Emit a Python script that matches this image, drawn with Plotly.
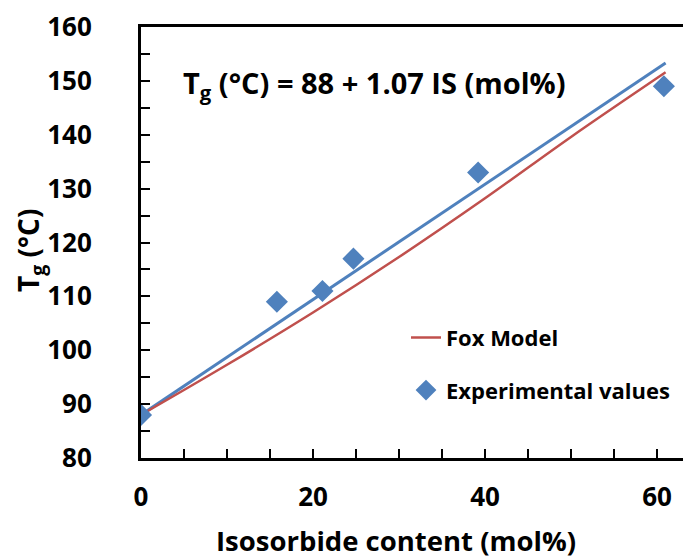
import plotly.graph_objects as go

# Data
exp_x = [0, 15.8, 21.1, 24.7, 39.2, 60.8]
exp_y = [88, 109, 111, 117, 133, 149]
fox_x = [0, 10, 20, 30, 40, 50, 61]
fox_y = [88, 97.3, 107.0, 117.3, 128.2, 139.6, 151.6]
fit_x = [0, 61]
fit_y = [88, 153.3]

BLUE = "#4F81BD"
RED = "#C0504D"
FONT = "Open Sans"

# page body has an 8px default margin; compensate so the plot lands where the reference has it
OFF = 8
W, H = 691 - OFF, 560 - OFF
L, T, B = 141 - OFF, 25 - OFF, 102
PW = W - L
PH = H - T - B


def px(xp):
    return (xp - 141) / PW


def py(yp):
    return (458 - yp) / PH


fig = go.Figure()
fig.add_trace(go.Scatter(x=fit_x, y=fit_y, mode="lines", line=dict(color=BLUE, width=3),
                         showlegend=False, hoverinfo="skip"))
fig.add_trace(go.Scatter(x=fox_x, y=fox_y, mode="lines", name="Fox Model",
                         line=dict(color=RED, width=2.5, shape="spline"), legendgroup="a"))
fig.add_trace(go.Scatter(x=exp_x, y=exp_y, mode="markers", name="Experimental values",
                         marker=dict(symbol="diamond", size=17, color=BLUE), legendgroup="b"))

xmax = PW / 172 * 20

fig.update_layout(
    width=W, height=H,
    margin=dict(l=L, r=0, t=T, b=B),
    plot_bgcolor="white", paper_bgcolor="white",
    font=dict(family=FONT, color="black", weight="bold"),
    legend=dict(x=px(406), y=py(316), xanchor="left", yanchor="top",
                font=dict(size=22, family=FONT, weight="bold"),
                tracegroupgap=21, bgcolor="rgba(0,0,0,0)"),
    xaxis=dict(range=[0, xmax], showline=True, linecolor="black", linewidth=3,
               mirror=True, showgrid=False, zeroline=False,
               tickmode="linear", tick0=0, dtick=20, ticks="inside", ticklen=9,
               tickwidth=2, tickcolor="black", ticklabelstandoff=14,
               ticklabeloverflow="allow",
               tickfont=dict(size=26, family=FONT, weight="bold"),
               minor=dict(dtick=5, ticks="inside", ticklen=9, tickwidth=2, tickcolor="black")),
    yaxis=dict(range=[80, 160], showline=True, linecolor="black", linewidth=3,
               showgrid=False, zeroline=False,
               tickmode="linear", tick0=80, dtick=10, ticks="inside", ticklen=9,
               tickwidth=2, tickcolor="black", ticklabelstandoff=41,
               ticklabeloverflow="allow",
               tickfont=dict(size=26, family=FONT, weight="bold"),
               minor=dict(dtick=5, ticks="inside", ticklen=9, tickwidth=2, tickcolor="black")),
    annotations=[
        dict(text="T<sub>g</sub> (°C) = 88 + 1.07 IS (mol%)", xref="paper", yref="paper",
             x=px(181), y=py(83), xanchor="left", yanchor="middle",
             showarrow=False, font=dict(size=29, family=FONT, weight="bold")),
        dict(text="Isosorbide content (mol%)", xref="paper", yref="paper",
             x=px(396), y=py(541), xanchor="center", yanchor="middle",
             showarrow=False, font=dict(size=27.5, family=FONT, weight="bold")),
        dict(text="T<sub>g</sub> (°C)", xref="paper", yref="paper", textangle=-90,
             x=px(30), y=py(250), xanchor="center", yanchor="middle",
             showarrow=False, font=dict(size=28, family=FONT, weight="bold")),
    ],
)

fig.write_html("out.html")
